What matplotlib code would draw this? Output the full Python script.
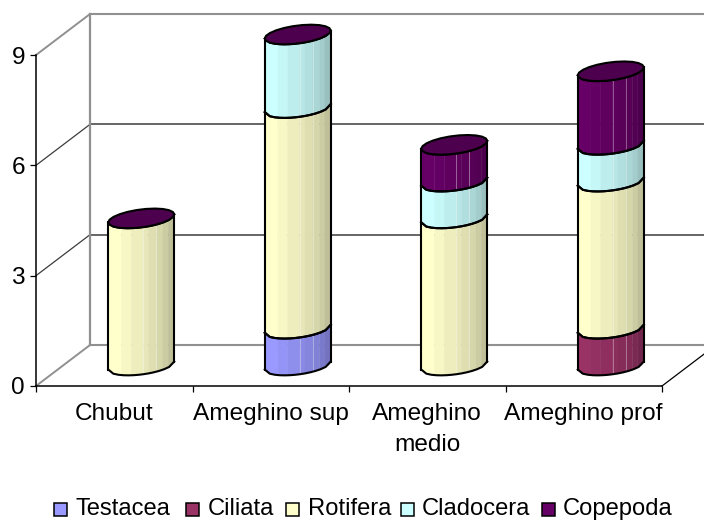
import matplotlib
matplotlib.use("Agg")
import matplotlib.pyplot as plt
import numpy as np
from matplotlib.patches import Rectangle

plt.rcParams['font.family'] = ['Liberation Sans', 'DejaVu Sans']

sites = ['Chubut', 'Ameghino sup', 'Ameghino\nmedio', 'Ameghino prof']
groups = ['Testacea', 'Ciliata', 'Rotifera', 'Cladocera', 'Copepoda']
colors = ['#9999FF', '#993366', '#FFFFCC', '#CCFFFF', '#660066']

testacea = [0, 1, 0, 0]
ciliata = [0, 0, 0, 1]
rotifera = [4, 6, 4, 4]
cladocera = [0, 2, 1, 1]
copepoda = [0, 0, 1, 2]
series = [testacea, ciliata, rotifera, cladocera, copepoda]

yticks = [0, 3, 6, 9]

# fake 3d: how far the back wall sits from the front plane, in data units
depth_x = 54 / 156.5
depth_y = 41 / 36.8
# cylinder cross section
rad_x = 33 / 156.5
rad_y = 9 / 36.8
skew = 4 / 36.8

# facets across the cylinder, left to right
edges = np.array([0, 0.2, 0.35, 0.53, 0.61, 0.73, 0.83, 0.91, 1.0])
shades = [1.0, 0.97, 0.93, 0.9, 0.87, 0.84, 0.8, 0.75]

# legend layout in pixels
key_left = [54, 186, 286, 401, 542]
label_left = [76, 208, 308, 422, 563]


def shade(col, f):
    return tuple(c * f for c in matplotlib.colors.to_rgb(col))


def front_y(frac, y0):
    # lower edge of the tilted ellipse at frac of the width (0 = left)
    c = 2 * frac - 1
    return y0 + skew * c - rad_y * np.sqrt(np.clip(1 - c * c, 0, 1))


def ellipse(cx, y0, n=22):
    t = np.linspace(0, 2 * np.pi, n, endpoint=False)
    return cx + rad_x * np.cos(t), y0 + skew * np.cos(t) + rad_y * np.sin(t)


def draw_segment(ax, cx, y0, y1, col):
    for i in range(len(shades)):
        fr = np.linspace(edges[i], edges[i + 1], 6)
        xs = cx + rad_x * (2 * fr - 1)
        lo = front_y(fr, y0)
        hi = front_y(fr, y1)
        ax.fill(np.r_[xs, xs[::-1]], np.r_[lo, hi[::-1]], color=shade(col, shades[i]),
                lw=0.3, clip_on=False, zorder=3)
    for e in edges[[3, 5]]:
        xe = cx + rad_x * (2 * e - 1)
        ax.plot([xe, xe], [front_y(e, y0), front_y(e, y1)], color='white', alpha=0.35,
                lw=0.7, clip_on=False, zorder=3.1)
    fr = np.linspace(0, 1, 14)
    xs = cx + rad_x * (2 * fr - 1)
    ax.plot(xs, front_y(fr, y0), color='black', lw=1.5, clip_on=False, zorder=4)
    ax.plot(xs, front_y(fr, y1), color='black', lw=1.5, clip_on=False, zorder=4)
    ax.plot([cx - rad_x] * 2, [front_y(0, y0), front_y(0, y1)], color='black', lw=1.5,
            clip_on=False, zorder=4)
    ax.plot([cx + rad_x] * 2, [front_y(1, y0), front_y(1, y1)], color='black', lw=1.5,
            clip_on=False, zorder=4)


fig = plt.figure(figsize=(7.04, 5.21), dpi=100)
ax = fig.add_axes([36 / 704, (521 - 386) / 521, 626 / 704, 331 / 521])
ax.set_xlim(0, len(sites))
ax.set_ylim(0, 9)

# back wall and floor
xback = len(sites) + depth_x
for v in yticks:
    outer = v in (0, 9)
    wall = '#909090' if outer else '#3c3c3c'
    ax.plot([depth_x, xback], [v + depth_y] * 2, color=wall, lw=1.5 if outer else 1.1,
            clip_on=False, zorder=1)
    ax.plot([0, depth_x], [v, v + depth_y], color=wall, lw=1.4 if outer else 0.9,
            clip_on=False, zorder=1)
ax.plot([depth_x, depth_x], [depth_y, 9 + depth_y], color='#909090', lw=1.6, clip_on=False, zorder=1)
ax.plot([len(sites), xback], [0, depth_y], color='black', lw=0.9, clip_on=False, zorder=2)

# stacked cylinders
for i in range(len(sites)):
    cx = i + 0.5 + depth_x / 2
    base = depth_y / 2
    total = 0
    for vals, col in zip(series, colors):
        if vals[i] == 0:
            continue
        draw_segment(ax, cx, base + total, base + total + vals[i], col)
        total += vals[i]
    ex, ey = ellipse(cx, base + total)
    ax.fill(ex, ey, facecolor=shade(colors[-1], 0.75), edgecolor='black', lw=1.5,
            clip_on=False, zorder=5)

ax.set_xticks(np.arange(len(sites) + 1))
ax.set_xticklabels([])
ax.set_xticks(np.arange(len(sites)) + 0.5, labels=sites, minor=True)
ax.tick_params(axis='x', which='major', length=4, width=0.9, direction='out')
ax.tick_params(axis='x', which='minor', length=0, pad=12.5, labelsize=17.6)
ax.set_yticks(yticks)
ax.tick_params(axis='y', length=4, width=0.9, pad=4, labelsize=17.6)
for lab in ax.get_xticklabels(minor=True):
    lab.set_linespacing(1.5)
ax.spines['top'].set_visible(False)
ax.spines['right'].set_visible(False)
ax.spines['left'].set_linewidth(1.1)
ax.spines['bottom'].set_linewidth(1.1)
ax.patch.set_visible(False)

# legend row, placed by hand so all labels share one baseline
for name, col, kx, lx in zip(groups, colors, key_left, label_left):
    fig.add_artist(Rectangle((kx / 704, 1 - 516 / 521), 13 / 704, 13 / 521, facecolor=col,
                             edgecolor='black', lw=1.1, transform=fig.transFigure))
    fig.text(lx / 704, 1 - 515 / 521, name, fontsize=17.1, va='baseline', ha='left')

plt.savefig("out.png", dpi=100)
